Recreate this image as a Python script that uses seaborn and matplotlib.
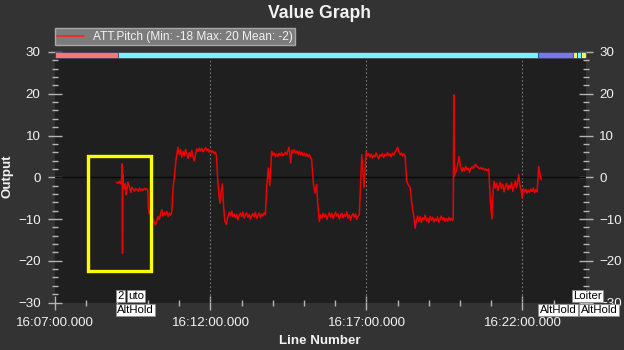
import matplotlib
matplotlib.use("Agg")
import matplotlib.pyplot as plt
import seaborn as sns
import pandas as pd
from matplotlib.ticker import MultipleLocator, FixedLocator, FixedFormatter
from matplotlib.patches import Rectangle

# ---------------- data ----------------
minutes = [1.98, 2.03, 2.08, 2.12, 2.15, 2.17, 2.18, 2.19, 2.21, 2.24, 2.27, 2.30, 2.33, 2.36, 2.39,
           2.42, 2.45, 2.48, 2.52, 2.56, 2.60, 2.64, 2.68, 2.72, 2.76, 2.80, 2.84, 2.88, 2.92, 2.96,
           2.99, 3.01, 3.04, 3.08, 3.12, 3.16, 3.20, 3.24, 3.28, 3.32, 3.36, 3.40, 3.44, 3.48, 3.52,
           3.56, 3.60, 3.64, 3.68, 3.72, 3.76, 3.80, 3.85, 3.90, 3.96, 4.00, 4.04, 4.08, 4.12, 4.16,
           4.20, 4.24, 4.28, 4.32, 4.36, 4.40, 4.44, 4.48, 4.52, 4.56, 4.60, 4.64, 4.68, 4.72, 4.76,
           4.80, 4.84, 4.88, 4.92, 4.96, 5.00, 5.04, 5.08, 5.12, 5.16, 5.19, 5.24, 5.30, 5.34, 5.38,
           5.42, 5.46, 5.51, 5.55, 5.60, 5.64, 5.68, 5.72, 5.76, 5.80, 5.84, 5.88, 5.92, 5.96, 6.00,
           6.04, 6.08, 6.12, 6.16, 6.20, 6.24, 6.28, 6.32, 6.36, 6.40, 6.44, 6.48, 6.52, 6.56, 6.60,
           6.64, 6.68, 6.72, 6.76, 6.80, 6.85, 6.90, 6.96, 7.00, 7.04, 7.08, 7.12, 7.16, 7.20, 7.24,
           7.28, 7.32, 7.36, 7.40, 7.44, 7.48, 7.52, 7.57, 7.61, 7.65, 7.69, 7.73, 7.77, 7.81, 7.85,
           7.89, 7.93, 7.97, 8.01, 8.05, 8.09, 8.13, 8.17, 8.21, 8.24, 8.30, 8.35, 8.40, 8.44, 8.49,
           8.53, 8.57, 8.61, 8.65, 8.69, 8.73, 8.77, 8.81, 8.85, 8.89, 8.93, 8.97, 9.01, 9.05, 9.09,
           9.13, 9.17, 9.21, 9.25, 9.29, 9.33, 9.37, 9.41, 9.45, 9.49, 9.53, 9.57, 9.61, 9.65, 9.69,
           9.73, 9.77, 9.81, 9.85, 9.92, 9.99, 10.03, 10.07, 10.11, 10.15, 10.19, 10.23, 10.27, 10.31, 10.35,
           10.39, 10.43, 10.47, 10.51, 10.55, 10.59, 10.63, 10.67, 10.71, 10.75, 10.79, 10.83, 10.87, 10.91, 10.95,
           11.00, 11.04, 11.08, 11.12, 11.16, 11.20, 11.24, 11.29, 11.35, 11.40, 11.45, 11.49, 11.53, 11.56, 11.60,
           11.64, 11.68, 11.72, 11.76, 11.80, 11.84, 11.88, 11.92, 11.96, 12.00, 12.04, 12.08, 12.12, 12.16, 12.20,
           12.24, 12.28, 12.32, 12.36, 12.40, 12.44, 12.48, 12.52, 12.56, 12.60, 12.64, 12.68, 12.72, 12.76, 12.78,
           12.80, 12.81, 12.85, 12.90, 12.97, 13.01, 13.06, 13.10, 13.14, 13.18, 13.22, 13.26, 13.30, 13.34, 13.38,
           13.42, 13.46, 13.50, 13.54, 13.58, 13.62, 13.66, 13.70, 13.74, 13.78, 13.82, 13.86, 13.92, 13.97, 14.02,
           14.06, 14.09, 14.13, 14.17, 14.21, 14.25, 14.29, 14.33, 14.37, 14.41, 14.45, 14.49, 14.53, 14.57, 14.61,
           14.65, 14.69, 14.73, 14.77, 14.81, 14.85, 14.88, 14.92, 14.96, 14.99, 15.03, 15.07, 15.11, 15.15, 15.19,
           15.23, 15.27, 15.31, 15.35, 15.39, 15.43, 15.47, 15.52, 15.56, 15.60]
pitch = [-1.2, -1.4, -1.0, -1.6, -0.3, 3.2, -18.2, 0.8, -2.2, -2.8, -1.5, -4.2, -2.6, -1.2, -2.0,
         -2.9, -3.6, -2.4, -2.8, -3.4, -2.7, -2.9, -3.3, -2.6, -3.1, -2.8, -3.2, -2.6, -3.0, -2.7,
         -3.1, -7.5, -8.8, -7.9, -9.6, -10.2, -10.8, -11.4, -10.3, -9.4, -10.1, -8.7, -7.8, -9.3, -8.4,
         -9.0, -8.2, -9.4, -8.6, -9.1, -8.3, -2.6, 0.7, 4.5, 7.2, 5.4, 6.6, 4.8, 6.2, 5.1,
         6.7, 5.6, 4.5, 5.9, 5.0, 6.4, 4.9, 3.9, 5.5, 6.8, 6.2, 7.0, 6.3, 6.9, 6.1,
         6.6, 7.1, 6.4, 6.8, 6.0, 6.5, 5.9, 6.3, 5.6, 6.0, 5.2, -1.7, -6.2, -3.5, -1.6,
         -7.0, -10.5, -11.3, -9.6, -8.4, -9.2, -8.1, -9.5, -8.8, -9.7, -8.9, -10.2, -9.1, -8.6, -9.4,
         -8.3, -9.8, -9.0, -8.5, -9.6, -8.9, -10.0, -9.2, -8.7, -9.5, -8.4, -9.9, -9.1, -8.6, -9.7,
         -8.8, -9.3, -8.5, -9.0, -2.5, 2.2, -2.0, 6.2, 5.3, 5.8, 4.9, 5.6, 5.0, 5.7, 5.2,
         5.9, 5.1, 5.5, 6.0, 5.4, 6.3, 7.2, 3.4, 6.5, 5.8, 6.6, 5.7, 6.3, 5.5, 6.2,
         5.4, 6.0, 5.2, 5.8, 5.0, 5.6, 4.9, 5.4, 4.6, 4.3, -1.7, -3.8, -1.7, -6.5, -10.6,
         -9.0, -9.8, -8.6, -9.5, -8.9, -10.1, -9.2, -8.5, -9.6, -8.7, -9.9, -9.0, -8.4, -9.3, -8.8,
         -10.0, -9.1, -8.6, -9.7, -8.9, -9.4, -8.3, -9.8, -9.0, -10.3, -9.2, -8.7, -9.6, -8.8, -10.1,
         -9.3, -9.0, -2.0, 5.4, -2.5, 6.2, 5.1, 5.7, 4.8, 5.5, 4.6, 5.3, 4.9, 5.8, 5.0,
         4.4, 5.4, 5.0, 5.7, 4.7, 5.5, 5.1, 5.9, 5.2, 5.6, 4.9, 5.8, 5.3, 6.0, 6.4,
         7.2, 6.1, 5.4, 5.8, 5.1, 5.6, 5.0, -1.0, -2.0, -2.5, -6.0, -8.2, -10.0, -12.2, -10.4,
         -9.3, -10.6, -9.5, -10.8, -9.7, -10.2, -9.1, -10.5, -9.8, -10.9, -9.4, -10.3, -9.6, -10.7, -9.9,
         -10.4, -9.5, -10.8, -10.0, -9.3, -10.2, -9.7, -10.6, -9.9, -10.5, -9.6, -10.3, -9.8, -10.4, -9.9,
         19.7, 0.2, 1.0, 2.2, 5.0, 2.6, 1.4, 2.3, 1.5, 2.6, 1.8, 2.2, 1.2, 2.0, 2.5,
         2.1, 2.8, 3.1, 2.6, 2.4, 2.0, 2.3, 1.9, 2.2, 1.7, 2.0, 1.6, 2.0, -5.8, -10.0,
         -3.0, -1.0, -2.6, -1.4, -3.2, -2.0, -1.2, -2.8, -1.7, -3.5, -2.2, -1.5, -3.0, -1.9, -2.7,
         -1.3, -3.4, -2.1, -0.9, -2.5, -1.0, 0.6, -2.0, -3.2, -5.0, -2.8, -3.5, -2.9, -3.8, -3.1,
         -3.6, -2.8, -3.4, -2.6, -3.7, -3.0, -3.5, 2.6, 0.8, -0.6]

xtick_pos = [0, 5, 10, 15]
xtick_labels = ["16:07:00.000", "16:12:00.000", "16:17:00.000", "16:22:00.000"]

mode_start = [0.0, 2.02, 15.50, 16.62, 16.75, 16.86]
mode_end = [2.02, 15.50, 16.62, 16.75, 16.86, 17.02]
mode_colors = ["#f47878", "#78f4f4", "#7878ec", "#f0f070", "#78f4f4", "#f0f070"]

label_text = ["2", "uto", "AltHold", "Loiter", "AltHold", "AltHold"]
label_x = [2.00, 2.36, 2.00, 16.62, 15.55, 16.87]
label_row = [0, 0, 1, 0, 1, 1]

legend_label = "ATT.Pitch (Min: -18 Max: 20 Mean: -2)"

# ---------------- style ----------------
sns.set_style("dark")
plt.rcParams["font.family"] = ["Liberation Sans", "DejaVu Sans"]
FIG_BG = "#333333"
AX_BG = "#1f1f1f"
TXT = "#f2f2f2"
TICK = "#b4b4b4"

fig = plt.figure(figsize=(6.24, 3.5), dpi=100, facecolor=FIG_BG)
ax = fig.add_axes([54.5 / 624, 1 - 302.5 / 350, 531 / 624, 250.5 / 350])
ax.set_facecolor(AX_BG)
for s in ax.spines.values():
    s.set_visible(False)

df = pd.DataFrame({"minutes": minutes, "pitch": pitch})
sns.lineplot(data=df, x="minutes", y="pitch", ax=ax, color="#ff0000", lw=1.1, alpha=0.92,
             estimator=None, sort=False, label=legend_label, zorder=3)

ax.set_xlim(0, 17.02)
ax.set_ylim(-30, 30)

# zero line and vertical dotted grid
ax.axhline(0, color="#0a0a0a", lw=1.0, zorder=2)
for xp in xtick_pos[1:]:
    ax.axvline(xp, color="#7a7a7a", lw=0.8, ls=(0, (1.5, 2)), zorder=1)

# ticks
ax.xaxis.set_major_locator(FixedLocator(xtick_pos))
ax.xaxis.set_major_formatter(FixedFormatter(xtick_labels))
ax.xaxis.set_minor_locator(MultipleLocator(1))
ax.yaxis.set_major_locator(MultipleLocator(10))
ax.yaxis.set_minor_locator(MultipleLocator(2))
ax.tick_params(axis="both", which="major", direction="inout", length=10, width=1,
               color=TICK, labelcolor=TXT, labelsize=9.6)
ax.tick_params(axis="both", which="minor", direction="inout", length=5, width=1, color=TICK)
ax.tick_params(axis="y", which="both", left=True, right=True, labelleft=True, labelright=True)
ax.tick_params(axis="y", which="major", pad=5)
ax.tick_params(axis="x", which="major", pad=5.5)
ax.tick_params(axis="x", which="both", bottom=True)
ax.set_xlabel("")
ax.set_ylabel("")

# mode bar at top
for s0, e0, c in zip(mode_start, mode_end, mode_colors):
    ax.broken_barh([(s0, e0 - s0)], (28.65, 1.35), facecolors=c, edgecolors="#3a3a5a",
                   linewidth=0.5, zorder=4, clip_on=False)

# yellow highlight rectangle
ax.add_patch(Rectangle((1.07, -22.4), 2.02, 27.5, fill=False, edgecolor="#ffff00",
                       lw=2.4, zorder=5))

# mode labels
row_y = [0.026, -0.030]
for t, xv, r in zip(label_text, label_x, label_row):
    ax.text(xv, row_y[r], t, transform=ax.get_xaxis_transform(), ha="left", va="center",
            fontsize=8.2, color="#000000", zorder=10, clip_on=False,
            bbox=dict(boxstyle="square,pad=0.12", fc="white", ec="#8a8a8a", lw=0.5))

# legend
leg = ax.legend(loc="lower left", bbox_to_anchor=(0.0, 1.027), borderaxespad=0,
                fontsize=8.6, handlelength=2.3, handletextpad=0.7, borderpad=0.2,
                fancybox=False, frameon=True)
leg.get_frame().set_facecolor("#7c7c7c")
leg.get_frame().set_edgecolor("#a8a8a8")
leg.get_frame().set_alpha(1)
for txt in leg.get_texts():
    txt.set_color(TXT)
for ln in leg.get_legend_handles() if hasattr(leg, "get_legend_handles") else leg.get_lines():
    try:
        ln.set_color("#ff2020")
        ln.set_linewidth(1.2)
        ln.set_alpha(1)
    except Exception:
        pass
for ln in leg.get_lines():
    ln.set_color("#ff2020")
    ln.set_linewidth(1.2)
    ln.set_alpha(1)

# titles
fig.text(320 / 624, 1 - 13 / 350, "Value Graph", ha="center", va="center",
         fontsize=12.7, fontweight="bold", color=TXT)
fig.text(320 / 624, 1 - 341 / 350, "Line Number", ha="center", va="center",
         fontsize=9.6, fontweight="bold", color=TXT)
fig.text(7 / 624, 1 - 176 / 350, "Output", ha="center", va="center", rotation=90,
         fontsize=9.6, fontweight="bold", color=TXT)

fig.savefig("out.png", dpi=100, facecolor=FIG_BG)
